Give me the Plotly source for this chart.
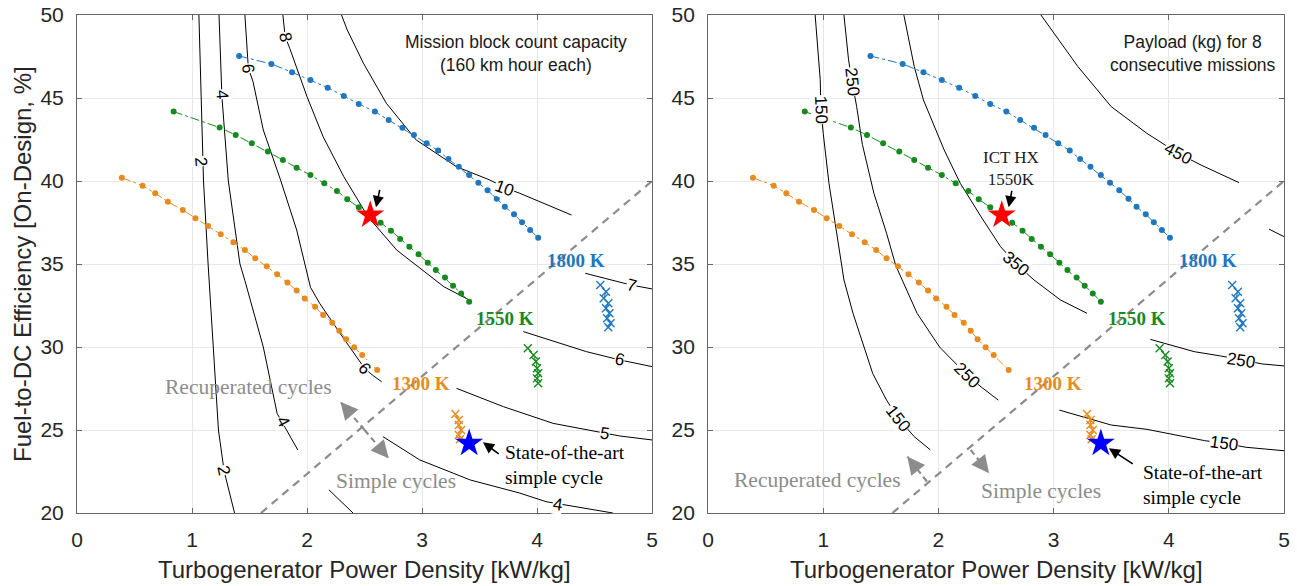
import plotly.graph_objects as go

SANS = "Liberation Sans, Arial, sans-serif"
SERIF = "Liberation Serif, Times New Roman, serif"

BLUE = "#1F77BF"
GREEN = "#178A1F"
ORANGE = "#E88B1E"
GREY = "#8C8C8C"

# ---------------- design sweeps (same in both panels) ----------------
orange_x = [0.39, 0.57, 0.68, 0.79, 0.92, 1.03, 1.14, 1.25, 1.36, 1.46, 1.55, 1.65,
            1.74, 1.83, 1.91, 1.98, 2.07, 2.14, 2.22, 2.28, 2.34, 2.41, 2.48, 2.61]
orange_y = [40.20, 39.72, 39.26, 38.75, 38.25, 37.75, 37.29, 36.79, 36.31, 35.84, 35.34, 34.86,
            34.38, 33.88, 33.40, 32.92, 32.42, 31.93, 31.46, 30.98, 30.47, 29.98, 29.52, 28.61]

green_x = [0.84, 1.24, 1.38, 1.52, 1.66, 1.79, 1.91, 2.03, 2.15, 2.26, 2.35, 2.45,
           2.55, 2.64, 2.73, 2.81, 2.89, 2.97, 3.05, 3.12, 3.20, 3.27, 3.34, 3.41]
green_y = [44.18, 43.22, 42.77, 42.27, 41.77, 41.27, 40.80, 40.36, 39.86, 39.40, 38.90, 38.42,
           37.95, 37.49, 37.01, 36.51, 36.04, 35.58, 35.08, 34.64, 34.18, 33.69, 33.23, 32.73]

blue_x = [1.41, 1.69, 1.87, 2.03, 2.18, 2.32, 2.45, 2.59, 2.71, 2.83, 2.93, 3.04,
          3.14, 3.23, 3.32, 3.41, 3.49, 3.57, 3.65, 3.72, 3.80, 3.87, 3.94, 4.01]
blue_y = [47.53, 47.05, 46.55, 46.08, 45.62, 45.12, 44.64, 44.18, 43.67, 43.21, 42.77, 42.27,
          41.83, 41.33, 40.86, 40.36, 39.90, 39.44, 38.93, 38.45, 37.99, 37.51, 37.05, 36.58]

# simple-cycle points (crosses)
blue_cross_x = [4.55, 4.60, 4.58, 4.62, 4.60, 4.63, 4.61, 4.64, 4.62]
blue_cross_y = [33.73, 33.33, 32.93, 32.63, 32.33, 32.03, 31.73, 31.43, 31.19]
green_cross_x = [3.92, 3.97, 3.99, 4.00, 4.01, 4.00, 4.01]
green_cross_y = [29.92, 29.52, 29.12, 28.72, 28.42, 28.11, 27.81]
orange_cross_x = [3.29, 3.32, 3.32, 3.34, 3.32, 3.33]
orange_cross_y = [25.96, 25.60, 25.30, 25.00, 24.70, 24.44]

# highlighted designs
ict_star = (2.55, 37.95)
sota_star = (3.41, 24.20)

# recuperated / simple boundary
boundary_x = [1.6, 5.0]
boundary_y = [20.0, 40.0]

# ---------------- contour lines: mission block count (left) ----------------
mc_2 = [(1.06, 50), (1.08, 45), (1.10, 40), (1.14, 35), (1.185, 30), (1.23, 25), (1.28, 22.5), (1.37, 20)]
mc_4a = [(1.235, 50), (1.26, 45.1), (1.316, 40), (1.417, 35), (1.46, 34.0), (1.62, 30.0),
         (1.74, 26.0), (1.79, 25.4), (1.92, 23.8)]
mc_4b = [(2.19, 21.4), (2.40, 20.0)]
mc_6a = [(1.46, 50), (1.49, 46.8), (1.53, 46.0), (1.62, 43.07), (1.77, 40.06), (1.91, 37.05),
         (2.03, 33.6), (2.11, 32.63), (2.28, 30.9), (2.45, 29.22), (2.50, 28.72), (2.57, 28.3), (2.65, 27.9)]
mc_8 = [(1.79, 50), (1.81, 48.7), (1.85, 47.99), (2.0, 45.08), (2.14, 42.67), (2.32, 40.26),
        (2.53, 37.85), (2.78, 35.84), (3.19, 33.63), (3.42, 32.8)]
mc_10 = [(2.30, 50), (2.35, 49.1), (2.49, 47.1), (2.69, 44.68), (2.95, 42.47), (3.30, 40.86),
         (3.59, 40.06), (3.72, 39.6), (3.85, 39.26), (4.30, 37.95)]
mc_7 = [(4.42, 34.44), (4.72, 33.94), (4.82, 33.73), (5.0, 33.5)]
mc_6b = [(3.88, 30.93), (4.43, 29.72), (4.72, 29.22), (5.0, 28.82)]
mc_5 = [(3.30, 27.51), (3.71, 26.4), (4.14, 25.4), (4.43, 25.0), (4.72, 24.64), (5.0, 24.4)]
mc_4c = [(2.66, 24.6), (2.98, 23.2), (3.42, 21.99), (3.85, 21.2), (4.08, 20.68), (4.32, 20.38), (4.66, 20.0)]
mc_lines = [mc_2, mc_4a, mc_4b, mc_6a, mc_8, mc_10, mc_7, mc_6b, mc_5, mc_4c]
mc_labels = [("2", 1.08, 41.2, 85), ("2", 1.27, 22.6, 78), ("4", 1.26, 45.2, 86), ("4", 1.79, 25.5, 62),
             ("6", 1.49, 46.8, 84), ("6", 2.50, 28.72, 50), ("8", 1.81, 48.7, 78), ("10", 3.72, 39.56, 20),
             ("7", 4.82, 33.73, 14), ("6", 4.72, 29.22, 12), ("5", 4.59, 24.76, 9), ("4", 4.18, 20.5, 9)]

# ---------------- contour lines: payload (right) ----------------
pl_150a = [(0.93, 50), (0.974, 46.1), (0.98, 44.3), (1.0, 42.87), (1.05, 39.86), (1.12, 36.85),
           (1.18, 34.04), (1.26, 32.0), (1.43, 28.4), (1.55, 26.8), (1.65, 25.7), (1.79, 24.6), (1.93, 23.8)]
pl_250a = [(1.18, 50), (1.22, 47.3), (1.25, 45.98), (1.29, 44.5), (1.34, 42.2), (1.44, 39.26),
           (1.55, 36.85), (1.63, 34.9), (1.815, 32.03), (2.01, 30.0), (2.25, 28.3), (2.37, 27.6), (2.52, 26.8)]
pl_350 = [(1.70, 50), (1.79, 46.9), (1.87, 44.88), (2.05, 41.87), (2.19, 39.86), (2.37, 37.85),
          (2.54, 36.04), (2.67, 35.04), (2.83, 34.04), (3.06, 32.83), (3.29, 32.03)]
pl_450 = [(2.89, 50), (3.21, 46.9), (3.50, 44.48), (3.81, 42.87), (4.08, 41.67), (4.28, 40.96), (4.61, 39.9)]
pl_edge = [(4.87, 37.1), (5.0, 36.65)]
pl_250b = [(3.84, 30.46), (4.22, 29.72), (4.45, 29.46), (4.63, 29.2), (4.81, 28.98), (5.0, 28.86)]
pl_150b = [(3.05, 26.2), (3.23, 25.84), (3.5, 25.3), (3.81, 25.04), (4.31, 24.36), (4.48, 24.2),
           (4.67, 23.96), (5.0, 23.75)]
pl_lines = [pl_150a, pl_250a, pl_350, pl_450, pl_edge, pl_250b, pl_150b]
pl_labels = [("150", 0.98, 44.3, 88), ("250", 1.25, 45.98, 84), ("150", 1.65, 25.7, 52),
             ("250", 2.25, 28.3, 45), ("350", 2.67, 35.04, 40), ("450", 4.08, 41.67, 28),
             ("250", 4.63, 29.2, 9), ("150", 4.48, 24.2, 8)]

x_ticks = [0, 1, 2, 3, 4, 5]
y_ticks = [20, 25, 30, 35, 40, 45, 50]

# pixel scale of the plot areas (for arrow-head offsets)
PX_X = 115.0
PX_Y = 16.6

fig = go.Figure()
annotations = []


def add_panel(xr, yr, lines, labels):
    for ln in lines:
        fig.add_trace(go.Scatter(x=[p[0] for p in ln], y=[p[1] for p in ln], mode="lines",
                                 line=dict(color="black", width=1), xaxis=xr, yaxis=yr,
                                 hoverinfo="skip", showlegend=False))
    for t, x, y, a in labels:
        annotations.append(dict(text=t, x=x, y=y, xref=xr, yref=yr, showarrow=False, textangle=a,
                                font=dict(family=SANS, size=17, color="black"),
                                bgcolor="white", borderpad=0))
    fig.add_trace(go.Scatter(x=boundary_x, y=boundary_y, mode="lines",
                             line=dict(color=GREY, width=2.2, dash="8px,6px"),
                             xaxis=xr, yaxis=yr, hoverinfo="skip", showlegend=False))
    for xs, ys, c in [(orange_x, orange_y, ORANGE), (green_x, green_y, GREEN), (blue_x, blue_y, BLUE)]:
        fig.add_trace(go.Scatter(x=xs, y=ys, mode="lines+markers",
                                 line=dict(color=c, width=1, dash="dashdot"),
                                 marker=dict(color=c, size=6), xaxis=xr, yaxis=yr, showlegend=False))
    for xs, ys, c in [(orange_cross_x, orange_cross_y, ORANGE), (green_cross_x, green_cross_y, GREEN),
                      (blue_cross_x, blue_cross_y, BLUE)]:
        fig.add_trace(go.Scatter(x=xs, y=ys, mode="lines+markers", line=dict(color=c, width=1),
                                 marker=dict(symbol="x-thin", size=8, line=dict(color=c, width=1.4)),
                                 xaxis=xr, yaxis=yr, showlegend=False))
    fig.add_trace(go.Scatter(x=[ict_star[0]], y=[ict_star[1]], mode="markers",
                             marker=dict(symbol="star", size=21, color="#FF0000", line=dict(width=0)),
                             xaxis=xr, yaxis=yr, showlegend=False))
    fig.add_trace(go.Scatter(x=[sota_star[0]], y=[sota_star[1]], mode="markers",
                             marker=dict(symbol="star", size=21, color="#0000FF", line=dict(width=0)),
                             xaxis=xr, yaxis=yr, showlegend=False))
    for t, x, y, c in [("1800 K", 4.34, 35.24, BLUE), ("1550 K", 3.725, 31.7, GREEN), ("1300 K", 2.995, 27.8, ORANGE)]:
        annotations.append(dict(text="<b>%s</b>" % t, x=x, y=y, xref=xr, yref=yr, showarrow=False,
                                font=dict(family=SERIF, size=19, color=c)))


def grey_arrow(xr, yr, tail, head):
    fig.add_trace(go.Scatter(x=[tail[0], head[0]], y=[tail[1], head[1]], mode="lines",
                             line=dict(color=GREY, width=2.2, dash="6px,4px"),
                             xaxis=xr, yaxis=yr, hoverinfo="skip", showlegend=False))
    dxp = (head[0] - tail[0]) * PX_X
    dyp = -(head[1] - tail[1]) * PX_Y
    n = (dxp ** 2 + dyp ** 2) ** 0.5
    annotations.append(dict(x=head[0], y=head[1], xref=xr, yref=yr, ax=-dxp / n * 12, ay=-dyp / n * 12,
                            showarrow=True, arrowhead=2, arrowsize=1.6, arrowwidth=2.2,
                            arrowcolor=GREY, text=""))


def black_arrow(xr, yr, tail, head):
    annotations.append(dict(x=head[0], y=head[1], xref=xr, yref=yr, ax=tail[0], ay=tail[1],
                            axref=xr, ayref=yr, showarrow=True, arrowhead=2, arrowsize=1.4,
                            arrowwidth=1.6, arrowcolor="black", text=""))


# left panel
add_panel("x", "y", mc_lines, mc_labels)
grey_arrow("x", "y", (2.50, 25.0), (2.29, 26.7))
grey_arrow("x", "y", (2.50, 25.0), (2.71, 23.3))
black_arrow("x", "y", (3.68, 23.5), (3.53, 24.26))
black_arrow("x", "y", (2.635, 39.56), (2.60, 38.42))
annotations += [
    dict(text="Mission block count capacity<br>(160 km hour each)", x=3.82, y=47.7, xref="x", yref="y",
         showarrow=False, font=dict(family=SANS, size=17.5, color="#1a1a1a")),
    dict(text="Recuperated cycles", x=1.49, y=27.6, xref="x", yref="y", showarrow=False,
         font=dict(family=SERIF, size=21.5, color=GREY)),
    dict(text="Simple cycles", x=2.77, y=21.9, xref="x", yref="y", showarrow=False,
         font=dict(family=SERIF, size=21.5, color=GREY)),
    dict(text="State-of-the-art<br>simple cycle", x=3.70, y=22.9, xref="x", yref="y", showarrow=False,
         xanchor="left", align="left", font=dict(family=SERIF, size=19.5, color="black")),
]

# right panel
add_panel("x2", "y2", pl_lines, pl_labels)
grey_arrow("x2", "y2", (1.90, 21.9), (1.73, 23.4))
grey_arrow("x2", "y2", (2.28, 23.8), (2.44, 22.4))
black_arrow("x2", "y2", (3.70, 22.9), (3.48, 23.9))
black_arrow("x2", "y2", (2.64, 39.5), (2.61, 38.42))
annotations += [
    dict(text="Payload (kg) for 8<br>consecutive missions", x=4.21, y=47.7, xref="x2", yref="y2",
         showarrow=False, font=dict(family=SANS, size=17.5, color="#1a1a1a")),
    dict(text="ICT HX<br>1550K", x=2.63, y=40.76, xref="x2", yref="y2", showarrow=False,
         font=dict(family=SERIF, size=17, color="#1a1a1a")),
    dict(text="Recuperated cycles", x=0.95, y=22.0, xref="x2", yref="y2", showarrow=False,
         font=dict(family=SERIF, size=21.5, color=GREY)),
    dict(text="Simple cycles", x=2.89, y=21.3, xref="x2", yref="y2", showarrow=False,
         font=dict(family=SERIF, size=21.5, color=GREY)),
    dict(text="State-of-the-art<br>simple cycle", x=3.757, y=21.7, xref="x2", yref="y2", showarrow=False,
         xanchor="left", align="left", font=dict(family=SERIF, size=19.5, color="black")),
]

# axis titles
TITLE_FONT = dict(family=SANS, size=24, color="#262626")
for xr, yr in [("x", "y"), ("x2", "y2")]:
    annotations.append(dict(text="Turbogenerator Power Density [kW/kg]", x=0.5, y=0,
                            xref=xr + " domain", yref=yr + " domain", yshift=-56, yanchor="middle",
                            showarrow=False, font=TITLE_FONT))
annotations.append(dict(text="Fuel-to-DC Efficiency [On-Design, %]", x=0, y=0.5, xref="x domain",
                        yref="y domain", xshift=-55, xanchor="center", yanchor="middle", textangle=-90,
                        showarrow=False, font=TITLE_FONT))

ax_common = dict(showline=True, linecolor="#666666", linewidth=1, mirror="ticks", ticks="inside",
                 ticklen=5, tickcolor="#666666", showgrid=True, gridcolor="#e8e8e8", gridwidth=1,
                 zeroline=False, automargin=False,
                 tickfont=dict(family=SANS, size=21, color="#262626"))

fig.update_layout(
    width=1297, height=586, paper_bgcolor="white", plot_bgcolor="white",
    margin=dict(l=77, r=13, t=15, b=73, autoexpand=False), showlegend=False,
    xaxis=dict(ax_common, domain=[0, 0.4764], range=[0, 5], tickvals=x_ticks, anchor="y",
               ticklabelstandoff=8),
    yaxis=dict(ax_common, domain=[0, 1], range=[20, 50], tickvals=y_ticks, anchor="x",
               ticklabelstandoff=8),
    xaxis2=dict(ax_common, domain=[0.5228, 1], range=[0, 5], tickvals=x_ticks, anchor="y2",
                ticklabelstandoff=8),
    yaxis2=dict(ax_common, domain=[0, 1], range=[20, 50], tickvals=y_ticks, anchor="x2",
                ticklabelstandoff=8),
    annotations=annotations,
)

fig.write_html("out.html", config={"displayModeBar": False},
               post_script="document.body.style.margin='0';document.body.style.overflow='hidden';")
